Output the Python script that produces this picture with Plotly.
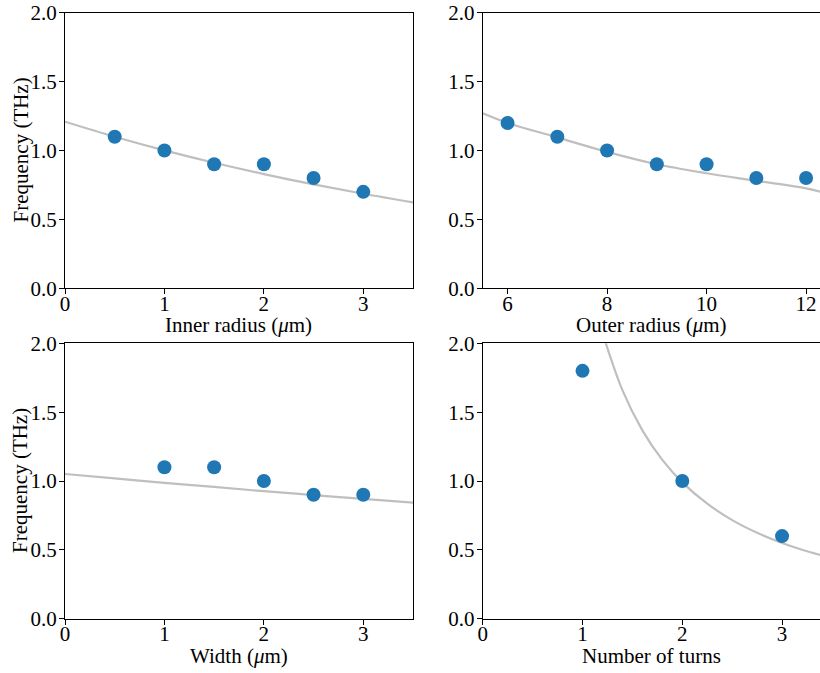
import plotly.graph_objects as go

# ---- data ----
inner_r = [0.5, 1.0, 1.5, 2.0, 2.5, 3.0]
inner_f = [1.1, 1.0, 0.9, 0.9, 0.8, 0.7]
inner_fit_x = [0.0, 0.5, 1.0, 1.5, 2.0, 2.5, 3.0, 3.5]
inner_fit_y = [1.209, 1.100, 1.001, 0.911, 0.829, 0.754, 0.686, 0.624]

outer_r = [6, 7, 8, 9, 10, 11, 12]
outer_f = [1.2, 1.1, 1.0, 0.9, 0.9, 0.8, 0.8]
outer_fit_x = [5.5, 6, 7, 8, 9, 10, 11, 12, 12.3]
outer_fit_y = [1.27, 1.20, 1.095, 0.99, 0.90, 0.835, 0.78, 0.725, 0.70]

width_w = [1.0, 1.5, 2.0, 2.5, 3.0]
width_f = [1.1, 1.1, 1.0, 0.9, 0.9]
width_fit_x = [0.0, 0.5, 1.0, 1.5, 2.0, 2.5, 3.0, 3.5]
width_fit_y = [1.051, 1.019, 0.987, 0.957, 0.926, 0.898, 0.870, 0.843]

turns_n = [1, 2, 3]
turns_f = [1.8, 1.0, 0.6]
turns_fit_x = [1.2, 1.4, 1.6, 1.8, 2.0, 2.25, 2.5, 2.75, 3.0, 3.2, 3.4]
turns_fit_y = [2.077, 1.66, 1.368, 1.153, 0.99, 0.835, 0.716, 0.624, 0.55, 0.501, 0.459]

y_ticks = [0.0, 0.5, 1.0, 1.5, 2.0]
x_titles = ["Inner radius (<i>μ</i>m)", "Outer radius (<i>μ</i>m)",
            "Width (<i>μ</i>m)", "Number of turns"]
y_title = "Frequency (THz)"

# ---- style ----
DOT = "#1f77b4"
FIT = "#bfbfbf"
FONT = "Liberation Serif, Times New Roman, Times, serif"
W, H = 820, 673

panels = [
    (inner_r, inner_f, inner_fit_x, inner_fit_y, [0, 3.5], [0, 1, 2, 3]),
    (outer_r, outer_f, outer_fit_x, outer_fit_y, [5.5, 12.28], [6, 8, 10, 12]),
    (width_w, width_f, width_fit_x, width_fit_y, [0, 3.5], [0, 1, 2, 3]),
    (turns_n, turns_f, turns_fit_x, turns_fit_y, [0, 3.38], [0, 1, 2, 3]),
]

# pixel boxes (left, right, top, bottom)
boxes = [(65, 413, 12.7, 288.3), (482.7, 820, 12.7, 288.3),
         (65, 413, 343.3, 618.7), (482.7, 820, 343.3, 618.7)]

fig = go.Figure()
layout = {}
annotations = []
for i, ((px, py, fx, fy, xr, xt), (l, r, t, b)) in enumerate(zip(panels, boxes)):
    n = "" if i == 0 else str(i + 1)
    xa, ya = "x" + n, "y" + n
    fig.add_trace(go.Scatter(x=fx, y=fy, mode="lines", line=dict(color=FIT, width=2.2, shape="spline"),
                             xaxis=xa, yaxis=ya, showlegend=False, hoverinfo="skip"))
    fig.add_trace(go.Scatter(x=px, y=py, mode="markers", marker=dict(color=DOT, size=14),
                             xaxis=xa, yaxis=ya, showlegend=False))
    right_edge = i in (1, 3)
    layout["xaxis" + n] = dict(
        domain=[l / W, r / W], anchor=ya, range=xr, tickvals=xt, automargin=False,
        showgrid=False, zeroline=False, showline=True, linecolor="black", linewidth=1,
        mirror=True, ticks="outside", ticklen=5, tickcolor="black", ticklabelstandoff=-9,
        tickfont=dict(family=FONT, size=21, color="black"),
    )
    layout["yaxis" + n] = dict(
        domain=[1 - b / H, 1 - t / H], anchor=xa, range=[0, 2.0], tickvals=y_ticks,
        tickformat=".1f", showgrid=False, zeroline=False, showline=True, linecolor="black",
        linewidth=1, mirror=(not right_edge), ticks="outside", ticklen=5, tickcolor="black",
        ticklabelstandoff=-2, automargin=False, tickfont=dict(family=FONT, size=21, color="black"),
    )
    annotations.append(dict(text=x_titles[i], xref="paper", yref="paper",
                            x=((l + r) / 2) / W, y=1 - (b + 37) / H, xanchor="center", yanchor="middle",
                            showarrow=False, font=dict(family=FONT, size=21, color="black")))
    if i in (0, 2):
        annotations.append(dict(text=y_title, xref="paper", yref="paper", textangle=-90,
                                x=20 / W, y=1 - ((t + b) / 2) / H, xanchor="center", yanchor="middle",
                                showarrow=False, font=dict(family=FONT, size=21, color="black")))

fig.update_layout(width=W, height=H, margin=dict(l=0, r=0, t=0, b=0, pad=0, autoexpand=False),
                  plot_bgcolor="white", paper_bgcolor="white", font=dict(family=FONT),
                  annotations=annotations, **layout)
fig.write_html("out.html", config={"displayModeBar": False},
               post_script="document.body.style.margin='0px';")
